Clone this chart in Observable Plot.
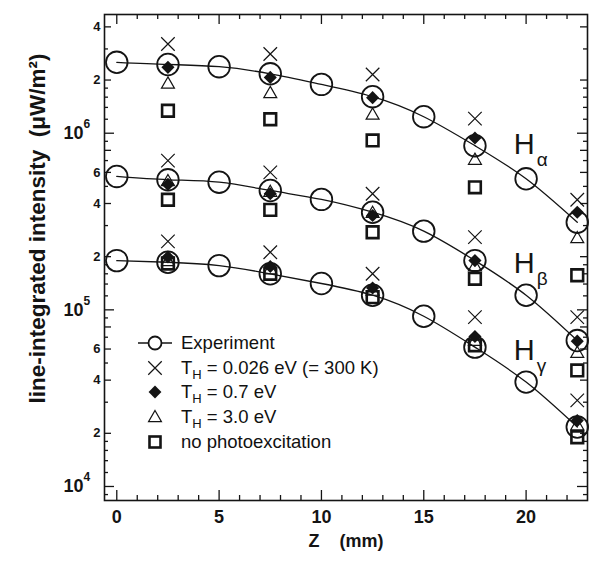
<!DOCTYPE html>
<html><head><meta charset="utf-8">
<script src="https://cdn.jsdelivr.net/npm/d3@7"></script>
<script src="https://cdn.jsdelivr.net/npm/@observablehq/plot@0.6"></script>
<style>
html,body{margin:0;padding:0;background:#fff;}
#wrap{position:relative;width:589px;height:568px;font-family:"Liberation Sans",Arial,Helvetica,sans-serif;}
#legend{position:absolute;left:134px;top:330.5px;}
.row{display:flex;align-items:center;height:24.7px;font-size:18.5px;color:#111;white-space:nowrap;}
.row svg{width:42px;height:24px;margin-right:5px;flex:none;overflow:visible;}
.row sub{font-size:13px;vertical-align:-5px;line-height:0;}
</style></head><body><div id="wrap"><div id="legend"></div></div>
<script>
// ---- data ----
const zExp = [0, 2.5, 5, 7.5, 10, 12.5, 15, 17.5, 20, 22.5];
const zSim = [2.5, 7.5, 12.5, 17.5, 22.5];
const lineNames = ["α", "β", "γ"];

// Experiment (circles)
const expHa = [2.52e6, 2.45e6, 2.38e6, 2.17e6, 1.89e6, 1.61e6, 1.24e6, 8.5e5, 5.52e5, 3.13e5];
const expHb = [5.69e5, 5.45e5, 5.28e5, 4.74e5, 4.22e5, 3.57e5, 2.79e5, 1.90e5, 1.21e5, 6.7e4];
const expHg = [1.90e5, 1.86e5, 1.78e5, 1.60e5, 1.41e5, 1.21e5, 9.2e4, 6.15e4, 3.90e4, 2.17e4];

// T_H = 0.026 eV (crosses)
const crossHa = [3.2e6, 2.81e6, 2.15e6, 1.21e6, 4.2e5];
const crossHb = [7.0e5, 6.0e5, 4.54e5, 2.58e5, 9.1e4];
const crossHg = [2.44e5, 2.12e5, 1.6e5, 9.1e4, 3.07e4];
// T_H = 0.7 eV (diamonds)
const diamHa = [2.36e6, 2.07e6, 1.59e6, 9.4e5, 3.57e5];
const diamHb = [5.13e5, 4.54e5, 3.42e5, 1.9e5, 6.65e4];
const diamHg = [1.99e5, 1.76e5, 1.33e5, 7.07e4, 2.36e4];
// T_H = 3.0 eV (triangles)
const triHa = [1.89e6, 1.67e6, 1.26e6, 7.0e5, 2.52e5];
const triHb = [5.3e5, 4.6e5, 3.5e5, 1.75e5, 5.65e4];
const triHg = [1.87e5, 1.68e5, 1.27e5, 6.6e4, 2.2e4];
// no photoexcitation (squares)
const sqHa = [1.34e6, 1.2e6, 9.1e5, 4.94e5, 1.57e5];
const sqHb = [4.2e5, 3.68e5, 2.75e5, 1.5e5, 4.54e4];
const sqHg = [1.83e5, 1.6e5, 1.18e5, 6.3e4, 1.9e4];

// line labels (H_alpha etc.)
const labelZ = [19.4, 19.4, 19.4];
const labelV = [7.67e5, 1.61e5, 5.18e4];

// axis ticks
const xMajor = [0, 5, 10, 15, 20];
const xMinor = [1, 2, 3, 4, 6, 7, 8, 9, 11, 12, 13, 14, 16, 17, 18, 19, 21, 22];
const yDecades = [1e4, 1e5, 1e6];
const yLabelled = [2e4, 4e4, 6e4, 8e4, 2e5, 4e5, 6e5, 8e5, 2e6, 4e6];
const yMinorMant = [1.2, 1.4, 1.6, 1.8, 3, 5, 7, 9];

const legendLabels = ["Experiment", "T<sub>H</sub> = 0.026 eV (= 300 K)", "T<sub>H</sub> = 0.7 eV", "T<sub>H</sub> = 3.0 eV", "no photoexcitation"];

// ---- build tables ----
const yDomain = [8.33e3, 4.7e6];
const yMinor = [];
[1e3, 1e4, 1e5, 1e6].forEach(d => yMinorMant.forEach(m => { const v = m * d; if (v >= yDomain[0] && v <= yDomain[1]) yMinor.push(v); }));

function rowsOf(zs, arrs) {
  const out = [];
  arrs.forEach((a, i) => a.forEach((v, j) => out.push({line: lineNames[i], z: zs[j], v})));
  return out;
}
const expRows = rowsOf(zExp, [expHa, expHb, expHg]);
const crossRows = rowsOf(zSim, [crossHa, crossHb, crossHg]);
const diamRows = rowsOf(zSim, [diamHa, diamHb, diamHg]);
const triRows = rowsOf(zSim, [triHa, triHb, triHg]);
const sqRows = rowsOf(zSim, [sqHa, sqHb, sqHg]);
const labelRows = lineNames.map((n, i) => ({name: n, z: labelZ[i], v: labelV[i]}));

const W = 589, H = 568, mT = 14, mB = 68, mL = 104, mR = 2;
const innerW = W - mL - mR, innerH = H - mT - mB;
const ink = "#141414";
const FONT = '"Liberation Sans", Arial, Helvetica, sans-serif';

const mant = d => Math.round(d / 10 ** Math.floor(Math.log10(d) + 1e-9));

const chart = Plot.plot({
  width: W, height: H,
  marginTop: mT, marginBottom: mB, marginLeft: mL, marginRight: mR,
  style: {fontFamily: FONT, color: ink, background: "#fff", overflow: "visible"},
  x: {domain: [-0.6, 23], label: null},
  y: {type: "log", domain: yDomain, label: null},
  marks: [
    // inward ticks, x
    Plot.tickX(xMajor, {x: d => d, insetTop: innerH - 10, stroke: ink, strokeWidth: 1.3}),
    Plot.tickX(xMinor, {x: d => d, insetTop: innerH - 5, stroke: ink, strokeWidth: 1.3}),
    Plot.tickX(xMajor, {x: d => d, insetBottom: innerH - 10, stroke: ink, strokeWidth: 1.3}),
    Plot.tickX(xMinor, {x: d => d, insetBottom: innerH - 5, stroke: ink, strokeWidth: 1.3}),
    // inward ticks, y
    Plot.tickY(yDecades, {y: d => d, insetRight: innerW - 10, stroke: ink, strokeWidth: 1.3}),
    Plot.tickY(yLabelled, {y: d => d, insetRight: innerW - 7, stroke: ink, strokeWidth: 1.3}),
    Plot.tickY(yMinor, {y: d => d, insetRight: innerW - 4, stroke: ink, strokeWidth: 1.3}),
    Plot.tickY(yDecades, {y: d => d, insetLeft: innerW - 10, stroke: ink, strokeWidth: 1.3}),
    Plot.tickY(yLabelled, {y: d => d, insetLeft: innerW - 7, stroke: ink, strokeWidth: 1.3}),
    Plot.tickY(yMinor, {y: d => d, insetLeft: innerW - 4, stroke: ink, strokeWidth: 1.3}),
    Plot.frame({stroke: ink, strokeWidth: 1.6}),
    // axis labels
    Plot.axisX(xMajor, {tickSize: 0, tickPadding: 10, fontSize: 18, fontWeight: "bold", label: null}),
    Plot.axisY(yLabelled, {tickSize: 0, tickPadding: 4, tickFormat: mant, fontSize: 13, fontWeight: "bold", label: null}),
    Plot.text(yDecades, {y: d => d, frameAnchor: "left", text: () => "10", textAnchor: "end", dx: -21, fontSize: 18, fontWeight: "bold", fill: ink}),
    Plot.text(yDecades, {y: d => d, frameAnchor: "left", text: d => String(Math.round(Math.log10(d))), textAnchor: "start", dx: -21, dy: -9, fontSize: 12, fontWeight: "bold", fill: ink}),
    Plot.text(["Z\u00a0\u00a0\u00a0\u00a0(mm)"], {frameAnchor: "bottom", textAnchor: "middle", lineAnchor: "bottom", dy: 46, fontSize: 18, fontWeight: "bold", fill: ink}),
    Plot.text(["line-integrated intensity\u00a0\u00a0(μW/m²)"], {frameAnchor: "left", textAnchor: "middle", lineAnchor: "middle", rotate: -90, dx: -67, dy: -29, fontSize: 22.5, fontWeight: "bold", fill: ink}),
    // data
    Plot.line(expRows, {x: "z", y: "v", z: "line", curve: "natural", stroke: ink, strokeWidth: 1.3}),
    Plot.dot(expRows, {x: "z", y: "v", r: 10.8, stroke: ink, strokeWidth: 1.8, fill: "none"}),
    Plot.dot(crossRows, {x: "z", y: "v", symbol: "times", r: 6.2, stroke: ink, strokeWidth: 1.2}),
    Plot.dot(triRows, {x: "z", y: "v", symbol: "triangle", r: 4.8, stroke: ink, strokeWidth: 1.2, fill: "none"}),
    Plot.dot(diamRows, {x: "z", y: "v", symbol: "diamond2", r: 5.9, fill: ink, stroke: "none"}),
    Plot.dot(sqRows, {x: "z", y: "v", symbol: "square", r: 6.6, stroke: ink, strokeWidth: 2.6, fill: "none"}),
    // H labels
    Plot.text(labelRows, {x: "z", y: "v", text: () => "H", textAnchor: "start", lineAnchor: "bottom", fontSize: 29, fill: ink}),
    Plot.text(labelRows, {x: "z", y: "v", text: "name", textAnchor: "start", lineAnchor: "bottom", dx: 23, dy: 12, fontSize: 19, fill: ink})
  ]
});
document.getElementById("wrap").prepend(chart);

// legend (inside the plot area, as in the reference)
const legend = d3.select("#legend");
const symbolDraw = [
  g => { g.append("line").attr("x1", 4).attr("x2", 38).attr("y1", 12).attr("y2", 12).attr("stroke", ink).attr("stroke-width", 1.3);
         g.append("circle").attr("cx", 21).attr("cy", 12).attr("r", 6.5).attr("fill", "#fff").attr("stroke", ink).attr("stroke-width", 1.8); },
  g => g.append("path").attr("transform", "translate(21,12)").attr("d", d3.symbol(d3.symbolTimes, 120)()).attr("fill", "none").attr("stroke", ink).attr("stroke-width", 1.2),
  g => g.append("path").attr("transform", "translate(21,12)").attr("d", d3.symbol(d3.symbolDiamond2, 105)()).attr("fill", ink),
  g => g.append("path").attr("transform", "translate(21,13)").attr("d", d3.symbol(d3.symbolTriangle, 72)()).attr("fill", "none").attr("stroke", ink).attr("stroke-width", 1.2),
  g => g.append("rect").attr("x", 15.5).attr("y", 6.5).attr("width", 11).attr("height", 11).attr("fill", "none").attr("stroke", ink).attr("stroke-width", 2.6)
];
legendLabels.forEach((lab, i) => {
  const row = legend.append("div").attr("class", "row");
  const svg = row.append("svg").attr("viewBox", "0 0 42 24");
  symbolDraw[i](svg);
  row.append("span").html(lab);
});
</script></body></html>
